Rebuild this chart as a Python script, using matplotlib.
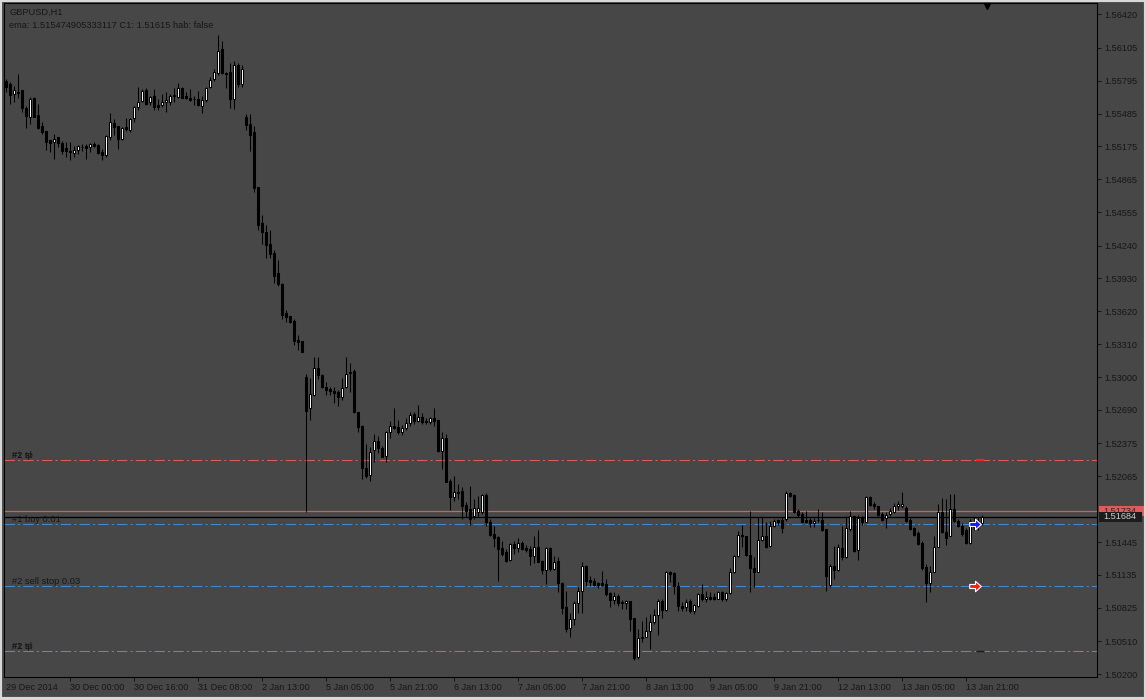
import matplotlib.pyplot as plt
import numpy as np
from matplotlib.path import Path
from matplotlib.transforms import blended_transform_factory

plt.rcParams['font.family'] = ['Liberation Sans', 'DejaVu Sans']

# GBPUSD H1 candles, 29 Dec 2014 08:00 onwards (one per hour)
opens = [
    1.5579, 1.5576, 1.5567, 1.5569, 1.5571, 1.5554, 1.5545, 1.5563, 1.5547, 1.5537,
    1.5532, 1.5524, 1.5522, 1.5526, 1.5521, 1.5516, 1.5513, 1.5511, 1.5514, 1.5517,
    1.5518, 1.5517, 1.5520, 1.5519, 1.5512, 1.5509, 1.5526, 1.5540, 1.5537, 1.5525,
    1.5536, 1.5533, 1.5544, 1.5555, 1.5560, 1.5571, 1.5559, 1.5565, 1.5557, 1.5557,
    1.5559, 1.5559, 1.5565, 1.5564, 1.5573, 1.5565, 1.5563, 1.5562, 1.5562, 1.5556,
    1.5561, 1.5574, 1.5581, 1.5587, 1.5609, 1.5587, 1.5588, 1.5562, 1.5594, 1.5576,
    1.5545, 1.5539, 1.5531, 1.5479, 1.5445, 1.5437, 1.5426, 1.5417, 1.5398, 1.5388,
    1.5360, 1.5358, 1.5353, 1.5335, 1.5334, 1.5300, 1.5271, 1.5283, 1.5309, 1.5302,
    1.5291, 1.5289, 1.5287, 1.5286, 1.5281, 1.5291, 1.5304, 1.5306, 1.5267, 1.5254,
    1.5214, 1.5208, 1.5231, 1.5240, 1.5233, 1.5226, 1.5248, 1.5254, 1.5253, 1.5248,
    1.5252, 1.5257, 1.5265, 1.5259, 1.5262, 1.5259, 1.5258, 1.5261, 1.5260, 1.5230,
    1.5243, 1.5202, 1.5187, 1.5192, 1.5193, 1.5179, 1.5176, 1.5169, 1.5173, 1.5173,
    1.5189, 1.5163, 1.5152, 1.5149, 1.5139, 1.5135, 1.5128, 1.5143, 1.5139, 1.5144,
    1.5139, 1.5138, 1.5131, 1.5140, 1.5127, 1.5118, 1.5139, 1.5119, 1.5127, 1.5106,
    1.5083, 1.5063, 1.5072, 1.5087, 1.5098, 1.5122, 1.5109, 1.5108, 1.5106, 1.5106,
    1.5105, 1.5096, 1.5090, 1.5094, 1.5088, 1.5087, 1.5089, 1.5073, 1.5036, 1.5054,
    1.5055, 1.5061, 1.5069, 1.5076, 1.5089, 1.5080, 1.5116, 1.5115, 1.5103, 1.5084,
    1.5083, 1.5089, 1.5079, 1.5084, 1.5095, 1.5091, 1.5093, 1.5093, 1.5091, 1.5097,
    1.5091, 1.5096, 1.5116, 1.5131, 1.5151, 1.5150, 1.5132, 1.5120, 1.5116, 1.5146,
    1.5150, 1.5141, 1.5160, 1.5165, 1.5165, 1.5166, 1.5191, 1.5189, 1.5174, 1.5171,
    1.5165, 1.5165, 1.5162, 1.5165, 1.5165, 1.5157, 1.5104, 1.5122, 1.5118, 1.5139,
    1.5130, 1.5157, 1.5169, 1.5137, 1.5167, 1.5163, 1.5187, 1.5180, 1.5178, 1.5171,
    1.5167, 1.5171, 1.5173, 1.5178, 1.5178, 1.5177, 1.5165, 1.5158, 1.5153, 1.5144,
    1.5121, 1.5106, 1.5116, 1.5140, 1.5173, 1.5154, 1.5150, 1.5176, 1.5164, 1.5160,
    1.5156, 1.5144, 1.5159, 1.5160, 1.5162]
highs = [
    1.5581, 1.5578, 1.5575, 1.5586, 1.5571, 1.5556, 1.5564, 1.5564, 1.5558, 1.5541,
    1.5532, 1.5524, 1.5529, 1.5526, 1.5523, 1.5522, 1.5522, 1.5518, 1.5519, 1.5520,
    1.5520, 1.5521, 1.5522, 1.5520, 1.5515, 1.5528, 1.5549, 1.5543, 1.5537, 1.5536,
    1.5544, 1.5544, 1.5556, 1.5574, 1.5572, 1.5573, 1.5565, 1.5572, 1.5562, 1.5567,
    1.5569, 1.5567, 1.5573, 1.5577, 1.5574, 1.5569, 1.5572, 1.5565, 1.5570, 1.5565,
    1.5574, 1.5583, 1.5591, 1.5623, 1.5617, 1.5588, 1.5596, 1.5598, 1.5596, 1.5594,
    1.5548, 1.5548, 1.5537, 1.5479, 1.5453, 1.5443, 1.5439, 1.5420, 1.5410, 1.5389,
    1.5363, 1.5358, 1.5355, 1.5340, 1.5334, 1.5303, 1.5299, 1.5319, 1.5319, 1.5303,
    1.5295, 1.5291, 1.5291, 1.5288, 1.5299, 1.5319, 1.5313, 1.5308, 1.5267, 1.5255,
    1.5237, 1.5234, 1.5246, 1.5244, 1.5235, 1.5249, 1.5259, 1.5271, 1.5260, 1.5255,
    1.5261, 1.5267, 1.5267, 1.5274, 1.5266, 1.5261, 1.5262, 1.5271, 1.5260, 1.5248,
    1.5246, 1.5204, 1.5207, 1.5199, 1.5196, 1.5182, 1.5197, 1.5185, 1.5188, 1.5190,
    1.5191, 1.5166, 1.5160, 1.5150, 1.5145, 1.5138, 1.5144, 1.5145, 1.5148, 1.5145,
    1.5142, 1.5141, 1.5150, 1.5156, 1.5128, 1.5140, 1.5140, 1.5131, 1.5130, 1.5107,
    1.5098, 1.5078, 1.5089, 1.5102, 1.5126, 1.5123, 1.5112, 1.5111, 1.5107, 1.5117,
    1.5110, 1.5097, 1.5097, 1.5095, 1.5090, 1.5090, 1.5089, 1.5073, 1.5062, 1.5070,
    1.5074, 1.5077, 1.5081, 1.5091, 1.5091, 1.5117, 1.5117, 1.5116, 1.5107, 1.5088,
    1.5091, 1.5091, 1.5086, 1.5096, 1.5105, 1.5098, 1.5097, 1.5096, 1.5098, 1.5098,
    1.5097, 1.5120, 1.5132, 1.5155, 1.5161, 1.5150, 1.5174, 1.5130, 1.5168, 1.5169,
    1.5163, 1.5164, 1.5166, 1.5166, 1.5168, 1.5193, 1.5192, 1.5190, 1.5176, 1.5173,
    1.5174, 1.5167, 1.5167, 1.5176, 1.5173, 1.5157, 1.5124, 1.5141, 1.5143, 1.5160,
    1.5169, 1.5174, 1.5169, 1.5170, 1.5169, 1.5188, 1.5188, 1.5182, 1.5178, 1.5173,
    1.5173, 1.5177, 1.5181, 1.5183, 1.5192, 1.5178, 1.5167, 1.5159, 1.5155, 1.5145,
    1.5124, 1.5122, 1.5150, 1.5180, 1.5186, 1.5185, 1.5190, 1.5190, 1.5166, 1.5162,
    1.5158, 1.5166, 1.5168, 1.5167, 1.5170]
lows = [
    1.5569, 1.5558, 1.5559, 1.5563, 1.5550, 1.5535, 1.5539, 1.5545, 1.5534, 1.5529,
    1.5514, 1.5512, 1.5506, 1.5517, 1.5510, 1.5508, 1.5505, 1.5508, 1.5510, 1.5513,
    1.5506, 1.5512, 1.5517, 1.5510, 1.5505, 1.5508, 1.5524, 1.5528, 1.5515, 1.5524,
    1.5532, 1.5531, 1.5541, 1.5552, 1.5559, 1.5557, 1.5557, 1.5552, 1.5552, 1.5555,
    1.5550, 1.5557, 1.5559, 1.5563, 1.5563, 1.5562, 1.5560, 1.5557, 1.5556, 1.5549,
    1.5559, 1.5573, 1.5579, 1.5585, 1.5586, 1.5573, 1.5554, 1.5553, 1.5574, 1.5574,
    1.5533, 1.5513, 1.5475, 1.5439, 1.5426, 1.5412, 1.5412, 1.5389, 1.5386, 1.5355,
    1.5352, 1.5351, 1.5330, 1.5326, 1.5324, 1.5173, 1.5260, 1.5282, 1.5298, 1.5290,
    1.5283, 1.5283, 1.5276, 1.5273, 1.5278, 1.5290, 1.5286, 1.5266, 1.5248, 1.5204,
    1.5205, 1.5202, 1.5220, 1.5228, 1.5225, 1.5220, 1.5243, 1.5251, 1.5246, 1.5245,
    1.5250, 1.5254, 1.5256, 1.5258, 1.5256, 1.5256, 1.5256, 1.5254, 1.5229, 1.5213,
    1.5201, 1.5175, 1.5183, 1.5185, 1.5166, 1.5168, 1.5161, 1.5166, 1.5168, 1.5171,
    1.5160, 1.5150, 1.5140, 1.5108, 1.5131, 1.5126, 1.5127, 1.5133, 1.5135, 1.5137,
    1.5135, 1.5123, 1.5125, 1.5126, 1.5114, 1.5105, 1.5117, 1.5118, 1.5097, 1.5077,
    1.5060, 1.5055, 1.5066, 1.5078, 1.5078, 1.5103, 1.5103, 1.5103, 1.5101, 1.5103,
    1.5094, 1.5083, 1.5086, 1.5084, 1.5081, 1.5081, 1.5061, 1.5033, 1.5034, 1.5050,
    1.5055, 1.5044, 1.5067, 1.5057, 1.5073, 1.5079, 1.5107, 1.5095, 1.5079, 1.5079,
    1.5079, 1.5078, 1.5077, 1.5083, 1.5089, 1.5088, 1.5090, 1.5090, 1.5091, 1.5089,
    1.5089, 1.5095, 1.5115, 1.5130, 1.5140, 1.5131, 1.5097, 1.5102, 1.5116, 1.5145,
    1.5139, 1.5140, 1.5159, 1.5161, 1.5153, 1.5164, 1.5187, 1.5172, 1.5168, 1.5163,
    1.5162, 1.5159, 1.5159, 1.5163, 1.5155, 1.5098, 1.5102, 1.5110, 1.5117, 1.5128,
    1.5129, 1.5155, 1.5135, 1.5128, 1.5161, 1.5163, 1.5178, 1.5176, 1.5169, 1.5164,
    1.5158, 1.5169, 1.5172, 1.5175, 1.5177, 1.5163, 1.5156, 1.5150, 1.5142, 1.5118,
    1.5088, 1.5097, 1.5116, 1.5140, 1.5153, 1.5142, 1.5150, 1.5163, 1.5159, 1.5150,
    1.5143, 1.5143, 1.5156, 1.5156, 1.5161]
closes = [
    1.5574, 1.5566, 1.5571, 1.5568, 1.5554, 1.5546, 1.5562, 1.5545, 1.5535, 1.5531,
    1.5522, 1.5521, 1.5525, 1.5521, 1.5513, 1.5513, 1.5512, 1.5514, 1.5518, 1.5517,
    1.5516, 1.5520, 1.5518, 1.5511, 1.5509, 1.5527, 1.5541, 1.5536, 1.5525, 1.5535,
    1.5534, 1.5543, 1.5555, 1.5559, 1.5570, 1.5558, 1.5564, 1.5555, 1.5555, 1.5559,
    1.5561, 1.5565, 1.5566, 1.5573, 1.5563, 1.5563, 1.5561, 1.5562, 1.5557, 1.5561,
    1.5573, 1.5580, 1.5588, 1.5608, 1.5587, 1.5586, 1.5562, 1.5594, 1.5576, 1.5591,
    1.5538, 1.5528, 1.5478, 1.5443, 1.5437, 1.5425, 1.5416, 1.5395, 1.5388, 1.5359,
    1.5357, 1.5352, 1.5334, 1.5333, 1.5324, 1.5268, 1.5284, 1.5309, 1.5302, 1.5291,
    1.5288, 1.5287, 1.5285, 1.5281, 1.5290, 1.5303, 1.5305, 1.5267, 1.5253, 1.5214,
    1.5207, 1.5229, 1.5240, 1.5233, 1.5225, 1.5248, 1.5254, 1.5252, 1.5248, 1.5252,
    1.5257, 1.5264, 1.5259, 1.5262, 1.5258, 1.5258, 1.5261, 1.5259, 1.5230, 1.5243,
    1.5201, 1.5187, 1.5192, 1.5191, 1.5178, 1.5174, 1.5166, 1.5177, 1.5177, 1.5189,
    1.5163, 1.5151, 1.5148, 1.5138, 1.5133, 1.5127, 1.5143, 1.5139, 1.5144, 1.5138,
    1.5137, 1.5131, 1.5140, 1.5126, 1.5118, 1.5139, 1.5119, 1.5126, 1.5106, 1.5082,
    1.5062, 1.5072, 1.5087, 1.5098, 1.5122, 1.5108, 1.5107, 1.5104, 1.5104, 1.5104,
    1.5095, 1.5090, 1.5094, 1.5087, 1.5087, 1.5089, 1.5072, 1.5035, 1.5054, 1.5055,
    1.5061, 1.5069, 1.5076, 1.5089, 1.5080, 1.5116, 1.5114, 1.5103, 1.5084, 1.5082,
    1.5088, 1.5079, 1.5085, 1.5095, 1.5091, 1.5093, 1.5091, 1.5091, 1.5097, 1.5091,
    1.5096, 1.5116, 1.5131, 1.5151, 1.5150, 1.5132, 1.5120, 1.5116, 1.5146, 1.5150,
    1.5140, 1.5160, 1.5164, 1.5163, 1.5158, 1.5191, 1.5188, 1.5173, 1.5170, 1.5163,
    1.5163, 1.5162, 1.5164, 1.5165, 1.5156, 1.5112, 1.5122, 1.5118, 1.5140, 1.5130,
    1.5158, 1.5169, 1.5136, 1.5167, 1.5163, 1.5187, 1.5179, 1.5178, 1.5170, 1.5165,
    1.5170, 1.5174, 1.5178, 1.5180, 1.5180, 1.5164, 1.5157, 1.5151, 1.5143, 1.5120,
    1.5106, 1.5116, 1.5140, 1.5173, 1.5154, 1.5148, 1.5176, 1.5164, 1.5160, 1.5152,
    1.5144, 1.5164, 1.5163, 1.5164, 1.51684]

# time axis labels, one every 16 bars
time_labels = ['29 Dec 2014', '30 Dec 00:00', '30 Dec 16:00', '31 Dec 08:00',
               '2 Jan 13:00', '5 Jan 05:00', '5 Jan 21:00', '6 Jan 13:00',
               '7 Jan 05:00', '7 Jan 21:00', '8 Jan 13:00', '9 Jan 05:00',
               '9 Jan 21:00', '12 Jan 13:00', '13 Jan 05:00', '13 Jan 21:00']
label_step = 16

# scale labels (1.51755 sits under the ask/bid boxes, so it is not shown)
price_ticks = [1.56420, 1.56105, 1.55795, 1.55485, 1.55175, 1.54865, 1.54555,
               1.54240, 1.53930, 1.53620, 1.53310, 1.53000, 1.52690, 1.52375,
               1.52065, 1.51445, 1.51135, 1.50825, 1.50510, 1.50200]

# order levels
tp1_sl2 = 1.5222
ask = 1.51734
bid = 1.51684
buy1 = 1.51615
sellstop2 = 1.5103
sl1_tp2 = 1.5042

RED = '#e05a5a'
BLUE = '#3f8ad0'
BG = '#474747'
FG = '#161616'
DASHDOT = (0, (10, 3, 2, 3))

W, H = 1146, 699
fig = plt.figure(figsize=(W / 100, H / 100), dpi=100, facecolor=BG)
ax = fig.add_axes([4 / W, 1 - 677 / H, 1093 / W, 674 / H])
ax.set_facecolor(BG)

o = np.array(opens)
hi = np.array(highs)
lo = np.array(lows)
c = np.array(closes)
n = len(o)
x = np.arange(n)

# order / price lines (behind bars)
ax.axhline(tp1_sl2, color=RED, lw=0.75, ls=DASHDOT, zorder=1)
ax.axhline(sl1_tp2, color=RED, lw=0.75, ls=DASHDOT, zorder=1)
ax.axhline(buy1, color=BLUE, lw=0.75, ls=DASHDOT, zorder=1)
ax.axhline(sellstop2, color=BLUE, lw=0.75, ls=DASHDOT, zorder=1)
ax.axhline(ask, color=RED, lw=0.9, zorder=1)
ax.axhline(bid, color='black', lw=0.9, zorder=1)

# candles
ax.vlines(x, lo, hi, color='black', lw=0.75, zorder=3)
bottoms = np.minimum(o, c)
heights = np.maximum(np.abs(c - o), 0.00002)
colors = np.where(c >= o, 'white', 'black')
ax.bar(x, heights, bottom=bottoms, width=0.5, color=colors,
       edgecolor='black', linewidth=0.75, zorder=4)

# order labels
lab_tr = ax.get_yaxis_transform()
for lvl, txts in [(tp1_sl2, ['#1 tp', '#2 sl']), (sl1_tp2, ['#1 sl', '#2 tp']),
                  (buy1, ['#1 buy 0.01']), (sellstop2, ['#2 sell stop 0.03'])]:
    for t in txts:
        ax.text(0.0075, lvl, t, transform=lab_tr, fontsize=6.7, color=FG,
                va='bottom', ha='left', zorder=2)

# trade arrows and tp mark at the current bars
arrow = Path([(-1, -0.35), (0, -0.35), (0, -0.9), (1, 0), (0, 0.9),
              (0, 0.35), (-1, 0.35), (-1, -0.35)],
             [Path.MOVETO] + [Path.LINETO] * 6 + [Path.CLOSEPOLY])
ax.scatter([n - 2.6], [buy1], marker=arrow, s=70, c='#1a1aff',
           edgecolors='white', linewidths=0.8, zorder=6)
ax.scatter([n - 2.6], [sellstop2], marker=arrow, s=70, c='#ff1a1a',
           edgecolors='white', linewidths=0.8, zorder=6)
ax.hlines(tp1_sl2, n - 2.3, n - 0.4, color='#ff2020', lw=1.6, zorder=5)
ax.hlines(sl1_tp2, n - 2.3, n - 0.4, color='#1a1a1a', lw=1.0, zorder=5)

# chart shift marker
ax.plot([n + 0.4], [0.995], marker='v', ms=5, color='black',
        transform=ax.get_xaxis_transform(), clip_on=False, zorder=7)

ax.set_xlim(-0.375, (1097 - 5.5) / 4)
ax.set_ylim(1.50172, 1.56528)

ax.yaxis.tick_right()
ax.set_yticks(price_ticks)
ax.set_yticklabels(['%.5f' % p for p in price_ticks])
ax.tick_params(axis='y', direction='out', length=3, width=0.75, colors=FG,
               labelsize=6.6, pad=2.2)

xt = list(range(0, n, label_step))[:len(time_labels)]
ax.set_xticks(xt)
ax.set_xticklabels(time_labels)
ax.tick_params(axis='x', direction='out', length=3, width=0.75, colors=FG,
               labelsize=6.6, pad=1.5)
for lab in ax.get_xticklabels():
    lab.set_ha('left')
ax.xaxis.get_major_ticks()[0].tick1line.set_visible(False)

for s in ax.spines.values():
    s.set_color('black')
    s.set_linewidth(0.75)

# ask / bid price boxes on the scale
box_h = 0.00095
ax.add_patch(plt.Rectangle((1.0018, ask - box_h / 2), 0.05, box_h, transform=lab_tr,
                           fc=RED, ec='none', clip_on=False, zorder=9))
ax.text(1.006, ask, '1.51734', transform=lab_tr, fontsize=6.6, color='#2a2a2a',
        va='center', ha='left', clip_on=False, zorder=10)
ax.add_patch(plt.Rectangle((1.0018, bid - box_h / 2), 0.0395, box_h, transform=lab_tr,
                           fc='#1c1c1c', ec='none', clip_on=False, zorder=11))
ax.text(1.006, bid, '1.51684', transform=lab_tr, fontsize=6.6, color='#cfcfcf',
        va='center', ha='left', clip_on=False, zorder=12)

fig.text(9 / W, 1 - 12.5 / H, 'GBPUSD,H1', fontsize=6.7, color=FG, va='center')
fig.text(9 / W, 1 - 25 / H, 'ema: 1.515474905333117 C1: 1.51615 hab: false',
         fontsize=6.7, color=FG, va='center')

# window frame
fig.patches.append(plt.Rectangle((0, 0), 1, 1, transform=fig.transFigure,
                                 fill=False, ec='#d8d8d8', lw=3))

fig.savefig('out.png', dpi=100, facecolor=BG)
